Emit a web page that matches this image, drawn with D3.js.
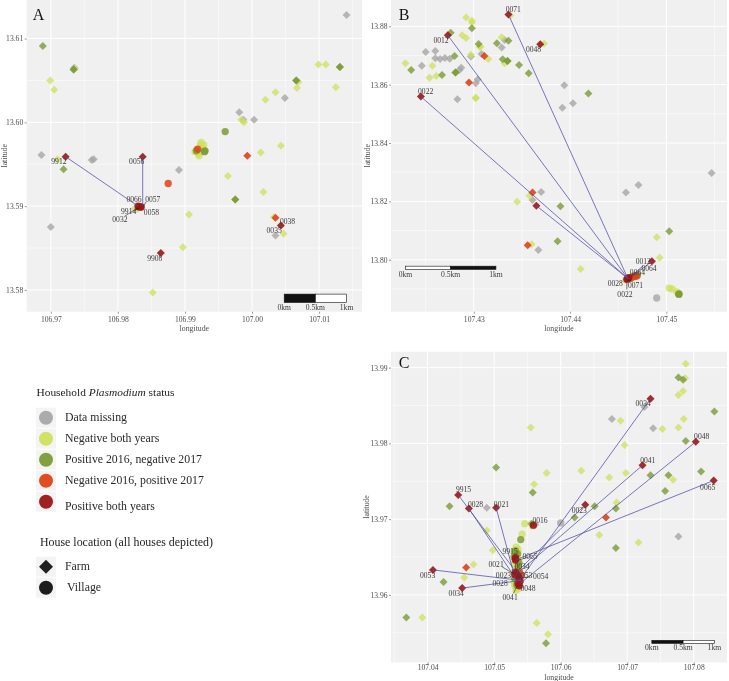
<!DOCTYPE html>
<html><head><meta charset="utf-8">
<script src="https://cdn.jsdelivr.net/npm/d3@7"></script>
<style>html,body{margin:0;padding:0;background:#fff}svg{display:block;filter:blur(.4px)}text{font-family:"Liberation Serif",serif}</style>
</head><body><div id="chart"></div>
<script>
// ---------- Panel A data [longitude, latitude]
const aMissingFarm=[[106.9735,13.6065],[107.0141,13.6128],[106.9686,13.5961],[106.9761,13.5955],[106.9764,13.5956],[106.9891,13.5943],[106.9700,13.5875],[106.9981,13.6012],[106.9987,13.6003],[107.0003,13.6003],[107.0049,13.6029],[107.0035,13.5865]];
const aNegFarm=[[106.9699,13.6050],[106.9705,13.6039],[106.9710,13.5956],[106.9736,13.6064],[106.9852,13.5797],[106.9897,13.5851],[106.9906,13.5890],[106.9964,13.5936],[106.9984,13.6003],[106.9988,13.6000],[107.0013,13.5964],[107.0017,13.5917],[107.0043,13.5972],[107.0020,13.6027],[107.0035,13.6036],[107.0067,13.6041],[107.0069,13.6048],[107.0099,13.6069],[107.0110,13.6069],[107.0125,13.6042],[107.0033,13.5887],[107.0047,13.5867],[106.9829,13.5897],[106.9825,13.5897]];
const aNegVillage=[[106.9923,13.5973],[106.9917,13.5967],[106.9921,13.5960],[106.9926,13.5969],[106.9928,13.5973],[106.9915,13.5965],[106.9920,13.5963],[106.9924,13.5976]];
const aPosNegFarm=[[106.9688,13.6091],[106.9734,13.6063],[106.9734,13.6063],[106.9719,13.5944],[106.9975,13.5908],[106.9975,13.5908],[107.0066,13.6050],[107.0066,13.6050],[107.0131,13.6066],[107.0131,13.6066]];
const aPosNegVillage=[[106.9930,13.5966],[106.9929,13.5965],[106.9960,13.5989],[106.9917,13.5966]];
const aNegPosFarm=[[106.9993,13.5960],[107.0035,13.5886]];
const aNegPosVillage=[[106.9875,13.5927],[106.9919,13.5968],[106.9835,13.5899]];
const aBothFarm=[[106.9722,13.5959],[106.9837,13.5959],[106.9864,13.5844],[107.0043,13.5877]];
const aBothVillage=[[106.9830,13.5900],[106.9832,13.5899],[106.9834,13.5899]];
const aLinks=[[106.9722,13.5959,106.9830,13.5900],[106.9837,13.5959,106.9837,13.5900]];
const aLeaders=[[106.9810,13.5888,106.9830,13.5898],[106.9824,13.5894,106.9832,13.5898],[106.9842,13.5905,106.9838,13.5900]];
const aLabels=[["9912",106.9712,13.5953],["0056",106.9828,13.5953],["0066",106.9824,13.5908],["0057",106.9852,13.5908],["9914",106.9816,13.5894],["0058",106.9850,13.5892],["0032",106.9803,13.5884],["0038",107.0053,13.5882],["0035",107.0033,13.5871],["9908",106.9855,13.5838]];
// ---------- Panel B data
const bMissingFarm=[[107.4250,13.8712],[107.4260,13.8715],[107.4246,13.8665],[107.4260,13.8690],[107.4265,13.8688],[107.4270,13.8691],[107.4275,13.8689],[107.4287,13.8658],[107.4285,13.8650],[107.4283,13.8550],[107.4297,13.8696],[107.4308,13.8705],[107.4329,13.8727],[107.4332,13.8753],[107.4302,13.8605],[107.4304,13.8618],[107.4394,13.8598],[107.4392,13.8521],[107.4403,13.8536],[107.4370,13.8232],[107.4361,13.8205],[107.4367,13.8033],[107.4458,13.8230],[107.4471,13.8256],[107.4547,13.8297]];
const bMissingVillage=[[107.4490,13.7869]];
const bNegFarm=[[107.4229,13.8673],[107.4257,13.8665],[107.4254,13.8624],[107.4261,13.8630],[107.4292,13.8830],[107.4298,13.8819],[107.4298,13.8813],[107.4288,13.8769],[107.4292,13.8760],[107.4297,13.8702],[107.4306,13.8730],[107.4307,13.8730],[107.4329,13.8762],[107.4315,13.8688],[107.4332,13.8673],[107.4302,13.8553],[107.4302,13.8555],[107.4373,13.8741],[107.4338,13.8837],[107.4358,13.8219],[107.4345,13.8199],[107.4360,13.8053],[107.4411,13.7968],[107.4490,13.8077],[107.4493,13.8007]];
const bNegVillage=[[107.4503,13.7903],[107.4506,13.7900],[107.4511,13.7890],[107.4513,13.7885],[107.4460,13.7933],[107.4458,13.7931],[107.4462,13.7936]];
const bPosNegFarm=[[107.4235,13.8650],[107.4276,13.8778],[107.4298,13.8793],[107.4280,13.8698],[107.4281,13.8642],[107.4281,13.8642],[107.4267,13.8633],[107.4305,13.8739],[107.4324,13.8742],[107.4336,13.8750],[107.4330,13.8687],[107.4335,13.8681],[107.4335,13.8681],[107.4347,13.8667],[107.4357,13.8639],[107.4419,13.8570],[107.4390,13.8183],[107.4387,13.8063],[107.4503,13.8098]];
const bPosNegVillage=[[107.4513,13.7882],[107.4513,13.7882],[107.4470,13.7947],[107.4466,13.7945]];
const bNegPosFarm=[[107.4295,13.8607],[107.4311,13.8698],[107.4361,13.8230],[107.4356,13.8050]];
const bNegPosVillage=[[107.4469,13.7944],[107.4464,13.7939],[107.4467,13.7943]];
const bBothFarm=[[107.4245,13.8559],[107.4273,13.8769],[107.4336,13.8840],[107.4369,13.8738],[107.4365,13.8185],[107.4485,13.7995]];
const bBothVillage=[[107.4459,13.7933],[107.4461,13.7939],[107.4460,13.7936]];
const bLinks=[[107.4245,13.8559,107.4460,13.7936],[107.4273,13.8769,107.4460,13.7936],[107.4336,13.8840,107.4460,13.7936],[107.4365,13.8185,107.4460,13.7936],[107.4485,13.7995,107.4464,13.7941]];
const bLeaders=[[107.4459,13.7921,107.4459,13.7898],[107.4465,13.7925,107.4460,13.7930],[107.4464,13.7944,107.4476,13.7980]];
const bLabels=[["0071",107.4341,13.8856],["0012",107.4266,13.8752],["0048",107.4362,13.8720],["0022",107.4250,13.8576],["0012",107.4476,13.7993],["0064",107.4482,13.7971],["0064",107.4470,13.7955],["0028",107.4447,13.7920],["0071",107.4468,13.7912],["0022",107.4457,13.7882]];
// ---------- Panel C data
const cMissingFarm=[[107.0677,13.9832],[107.0726,13.9848],[107.0739,13.9820],[107.0489,13.9715],[107.0777,13.9677],[107.0562,13.9693]];
const cMissingVillage=[[107.0600,13.9695]];
const cNegFarm=[[107.0788,13.9905],[107.0787,13.9886],[107.0784,13.9869],[107.0777,13.9864],[107.0785,13.9832],[107.0777,13.9821],[107.0753,13.9819],[107.0690,13.9830],[107.0696,13.9798],[107.0555,13.9821],[107.0579,13.9761],[107.0560,13.9746],[107.0631,13.9764],[107.0673,13.9755],[107.0698,13.9761],[107.0769,13.9752],[107.0684,13.9722],[107.0658,13.9679],[107.0717,13.9669],[107.0489,13.9685],[107.0498,13.9659],[107.0469,13.9640],[107.0455,13.9623],[107.0392,13.9570],[107.0564,13.9563],[107.0581,13.9548]];
const cNegVillage=[[107.0546,13.9694],[107.0542,13.9680],[107.0558,13.9691],[107.0533,13.9663],[107.0536,13.9660],[107.0531,13.9652],[107.0535,13.9648],[107.0530,13.9641],[107.0536,13.9635],[107.0533,13.9626],[107.0530,13.9617],[107.0533,13.9610],[107.0533,13.9606],[107.0536,13.9655],[107.0530,13.9657],[107.0537,13.9641],[107.0530,13.9630],[107.0538,13.9621],[107.0531,13.9612],[107.0536,13.9608]];
const cPosNegFarm=[[107.0777,13.9887],[107.0784,13.9884],[107.0831,13.9842],[107.0788,13.9803],[107.0811,13.9763],[107.0762,13.9758],[107.0735,13.9758],[107.0757,13.9737],[107.0683,13.9714],[107.0651,13.9717],[107.0621,13.9702],[107.0683,13.9662],[107.0558,13.9735],[107.0503,13.9768],[107.0433,13.9717],[107.0424,13.9617],[107.0368,13.9570],[107.0578,13.9536],[107.0556,13.9694]];
const cPosNegVillage=[[107.0540,13.9673],[107.0535,13.9654],[107.0537,13.9643],[107.0535,13.9626],[107.0532,13.9658],[107.0534,13.9613],[107.0530,13.9650],[107.0536,13.9637],[107.0531,13.9622]];
const cNegPosFarm=[[107.0458,13.9636],[107.0668,13.9702]];
const cNegPosVillage=[[107.0538,13.9630],[107.0541,13.9626],[107.0536,13.9624]];
const cBothFarm=[[107.0735,13.9859],[107.0803,13.9802],[107.0723,13.9771],[107.0830,13.9751],[107.0637,13.9719],[107.0446,13.9732],[107.0462,13.9714],[107.0503,13.9715],[107.0408,13.9633],[107.0452,13.9609]];
const cBothVillage=[[107.0559,13.9692],[107.0532,13.9649],[107.0532,13.9646],[107.0532,13.9630],[107.0537,13.9622],[107.0536,13.9615],[107.0538,13.9612],[107.0534,13.9626],[107.0531,13.9627],[107.0539,13.9618]];
const cLinks=[[107.0735,13.9859,107.0538,13.9619],[107.0803,13.9802,107.0539,13.9615],[107.0723,13.9771,107.0532,13.9626],[107.0830,13.9751,107.0532,13.9646],[107.0637,13.9719,107.0534,13.9630],[107.0446,13.9732,107.0529,13.9635],[107.0462,13.9714,107.0532,13.9622],[107.0503,13.9715,107.0529,13.9630],[107.0408,13.9633,107.0541,13.9619],[107.0452,13.9609,107.0541,13.9619]];
const cLeaders=[[107.0512,13.9637,107.0529,13.9628],[107.0529,13.9602,107.0534,13.9611],[107.0537,13.9646,107.0552,13.9650],[107.0554,13.9624,107.0541,13.9622]];
const cLabels=[["9915",107.0454,13.9739],["0028",107.0472,13.9719],["0021",107.0511,13.9719],["0016",107.0569,13.9698],["0023",107.0628,13.9711],["0041",107.0731,13.9777],["0048",107.0812,13.9809],["0065",107.0821,13.9742],["0034",107.0724,13.9852],["0053",107.0400,13.9626],["0034",107.0443,13.9602],["9915",107.0524,13.9657],["0065",107.0554,13.9650],["0021",107.0503,13.9640],["0034",107.0542,13.9637],["0023",107.0514,13.9626],["0053",107.0546,13.9626],["0054",107.0570,13.9624],["0028",107.0509,13.9615],["0048",107.0551,13.9608],["0041",107.0524,13.9596]];
// ---------- Ticks, scale bars and legend text
const aLonTicks=[106.97,106.98,106.99,107.00,107.01], aLatTicks=[13.58,13.59,13.60,13.61];
const bLonTicks=[107.43,107.44,107.45], bLatTicks=[13.80,13.82,13.84,13.86,13.88];
const cLonTicks=[107.04,107.05,107.06,107.07,107.08], cLatTicks=[13.96,13.97,13.98,13.99];
const aBar=[107.0048,107.00945,107.0141,13.5795,13.5785], bBar=[107.4229,107.4276,107.4323,13.7978,13.7967], cBar=[107.0737,107.0784,107.0831,13.9540,13.9536];
const barLabels=["0km","0.5km","1km"];
const statusNames=["Data missing","Negative both years","Positive 2016, negative 2017","Negative 2016, positive 2017","Positive both years"];
const statusColors=["#a9a5a5","#cfe05c","#7c9b36","#de4316","#9c1515"];
const shapeNames=["Farm","Village"];

const W=729,H=681;
const svg=d3.select("#chart").append("svg").attr("width",W).attr("height",H).attr("viewBox",[0,0,W,H]);
const TXT="#3a3a3a", TICK="#4d4d4d";
const diamond=d3.symbol().type(d3.symbolSquare).size(32)();
const circle=d3.symbol().type(d3.symbolCircle).size(42)();

function panel(o){
  const x=d3.scaleLinear().domain(o.xd).range([o.l,o.r]);
  const y=d3.scaleLinear().domain(o.yd).range([o.b,o.t]);
  const g=svg.append("g");
  g.append("rect").attr("x",o.l).attr("y",o.t).attr("width",o.r-o.l).attr("height",o.b-o.t).attr("fill","#f0f0f0");
  const stepX=o.xt[1]-o.xt[0], stepY=o.yt[1]-o.yt[0];
  const mids=(t,s,d)=>[t[0]-s/2,...t.map(v=>v+s/2)].filter(v=>v>d[0]&&v<d[1]);
  g.selectAll(".mx").data(mids(o.xt,stepX,o.xd)).join("line").attr("x1",x).attr("x2",x).attr("y1",o.t).attr("y2",o.b).attr("stroke","#fff").attr("stroke-width",.5);
  g.selectAll(".my").data(mids(o.yt,stepY,o.yd)).join("line").attr("y1",y).attr("y2",y).attr("x1",o.l).attr("x2",o.r).attr("stroke","#fff").attr("stroke-width",.5);
  g.selectAll(".gx").data(o.xt).join("line").attr("x1",x).attr("x2",x).attr("y1",o.t).attr("y2",o.b).attr("stroke","#fff").attr("stroke-width",1);
  g.selectAll(".gy").data(o.yt).join("line").attr("y1",y).attr("y2",y).attr("x1",o.l).attr("x2",o.r).attr("stroke","#fff").attr("stroke-width",1);

  const ax=g.append("g").attr("transform",`translate(0,${o.b})`).call(d3.axisBottom(x).tickValues(o.xt).tickFormat(d3.format(".2f")).tickSize(2).tickPadding(o.padX));
  const ay=g.append("g").attr("transform",`translate(${o.l},0)`).call(d3.axisLeft(y).tickValues(o.yt).tickFormat(d3.format(".2f")).tickSize(2).tickPadding(1.5));
  [ax,ay].forEach(a=>{a.select(".domain").remove();a.selectAll("line").attr("stroke","#555").attr("stroke-width",.6);
    a.selectAll("text").attr("fill",TICK).style("font-size","7.6px").style("font-family",'"Liberation Serif",serif');});
  g.append("text").attr("x",(o.l+o.r)/2).attr("y",o.xlabY).attr("text-anchor","middle").attr("fill",TICK).style("font-size","7.8px").text("longitude");
  g.append("text").attr("transform",`translate(${o.ylabX},${(o.t+o.b)/2}) rotate(-90)`).attr("text-anchor","middle").attr("fill",TICK).style("font-size","7.8px").text("latitude");

  const pts=(data,color,path,op)=>g.append("g").selectAll("path").data(data).join("path").attr("d",path)
    .attr("transform",d=>`translate(${x(d[0])},${y(d[1])})`+(path===diamond?" rotate(45)":"")).attr("fill",color).attr("fill-opacity",op);
  const c=statusColors;
  pts(o.d.mf,c[0],diamond,.8); if(o.d.mv)pts(o.d.mv,c[0],circle,.8);
  pts(o.d.nf,c[1],diamond,.75); pts(o.d.nv,c[1],circle,.75);
  pts(o.d.pf,c[2],diamond,.8); pts(o.d.pv,c[2],circle,.85);
  pts(o.d.of,c[3],diamond,.9); pts(o.d.ov,c[3],circle,.85);
  pts(o.d.rf,c[4],diamond,.9); pts(o.d.rv,c[4],circle,.9);

  g.append("g").selectAll("line").data(o.links).join("line").attr("x1",d=>x(d[0])).attr("y1",d=>y(d[1])).attr("x2",d=>x(d[2])).attr("y2",d=>y(d[3])).attr("stroke","#4f4fa8").attr("stroke-opacity",.85).attr("stroke-width",.9);
  g.append("g").selectAll("line").data(o.leaders).join("line").attr("x1",d=>x(d[0])).attr("y1",d=>y(d[1])).attr("x2",d=>x(d[2])).attr("y2",d=>y(d[3])).attr("stroke","#222").attr("stroke-width",.6);
  g.append("g").selectAll("text").data(o.labels).join("text").attr("x",d=>x(d[1])).attr("y",d=>y(d[2])).attr("dy","0.32em").attr("text-anchor","middle").attr("fill",TXT).style("font-size","7.6px").text(d=>d[0]);

  // scale bar
  const b=o.bar, bt=y(b[3]), bh=y(b[4])-y(b[3]);
  const seg=(a,z,f)=>g.append("rect").attr("x",x(a)).attr("y",bt).attr("width",x(z)-x(a)).attr("height",bh).attr("fill",f).attr("stroke","#111").attr("stroke-width",.6);
  seg(b[0],b[1],o.barFlip?"#fff":"#111"); seg(b[1],b[2],o.barFlip?"#111":"#fff");
  barLabels.forEach((t,i)=>g.append("text").attr("x",x(b[i])).attr("y",bt+bh+o.barGap).attr("text-anchor","middle").attr("fill",TXT).style("font-size","7.6px").text(t));
  g.append("text").attr("x",o.letter[0]).attr("y",o.letter[1]).attr("text-anchor","middle").attr("fill","#111").style("font-size","16px").text(o.name);
}

panel({name:"A",l:26.7,r:362,t:0,b:311.7,xd:[106.9664,107.0164],yd:[13.5774,13.6146],xt:aLonTicks,yt:aLatTicks,padX:2.5,xlabY:331,ylabX:7,letter:[38.5,19.5],
  bar:aBar,barGap:8,d:{mf:aMissingFarm,nf:aNegFarm,nv:aNegVillage,pf:aPosNegFarm,pv:aPosNegVillage,of:aNegPosFarm,ov:aNegPosVillage,rf:aBothFarm,rv:aBothVillage},links:aLinks,leaders:aLeaders,labels:aLabels});
panel({name:"B",l:391,r:727,t:0,b:311.7,xd:[107.4214,107.4563],yd:[13.7822,13.8890],xt:bLonTicks,yt:bLatTicks,padX:2.5,xlabY:331,ylabX:370,letter:[404,19.5],
  bar:bBar,barGap:8,barFlip:true,d:{mf:bMissingFarm,mv:bMissingVillage,nf:bNegFarm,nv:bNegVillage,pf:bPosNegFarm,pv:bPosNegVillage,of:bNegPosFarm,ov:bNegPosVillage,rf:bBothFarm,rv:bBothVillage},links:bLinks,leaders:bLeaders,labels:bLabels});
panel({name:"C",l:391,r:727,t:351.7,b:662.3,xd:[107.0345,107.0850],yd:[13.9511,13.9921],xt:cLonTicks,yt:cLatTicks,padX:.5,xlabY:679.5,ylabX:368.5,letter:[404,367.5],
  bar:cBar,barGap:7,d:{mf:cMissingFarm,mv:cMissingVillage,nf:cNegFarm,nv:cNegVillage,pf:cPosNegFarm,pv:cPosNegVillage,of:cNegPosFarm,ov:cNegPosVillage,rf:cBothFarm,rv:cBothVillage},links:cLinks,leaders:cLeaders,labels:cLabels});

// legend
const leg=svg.append("g");
const title=leg.append("text").attr("x",36.5).attr("y",396).attr("fill","#222").style("font-size","11.4px");
title.append("tspan").text("Household ");title.append("tspan").attr("font-style","italic").text("Plasmodium");title.append("tspan").text(" status");
const keyY=d3.scalePoint().domain(statusNames).range([417.7,501.7]);
statusNames.forEach((s,i)=>{
  const yy=keyY(s);
  leg.append("rect").attr("x",36).attr("y",yy-10).attr("width",20).attr("height",20).attr("fill","#f4f4f4");
  leg.append("circle").attr("cx",46).attr("cy",yy).attr("r",7).attr("fill",statusColors[i]).attr("fill-opacity",.95);
  leg.append("text").attr("x",65).attr("y",yy+(i===4?4.5:0)).attr("dy","0.32em").attr("fill","#2a2a2a").style("font-size","11.8px").text(s);
});
leg.append("text").attr("x",40).attr("y",546).attr("fill","#222").style("font-size","11.9px").text("House location (all houses depicted)");
const shapeY=d3.scalePoint().domain(shapeNames).range([566.7,587.7]);
shapeNames.forEach((s,i)=>{
  const yy=shapeY(s);
  leg.append("rect").attr("x",36).attr("y",yy-10).attr("width",20).attr("height",20).attr("fill","#f4f4f4");
  if(i===0) leg.append("path").attr("d",d3.symbol().type(d3.symbolSquare).size(98)()).attr("transform",`translate(46,${yy}) rotate(45)`).attr("fill","#222");
  else leg.append("circle").attr("cx",46).attr("cy",yy).attr("r",7).attr("fill","#1c1c1c");
  leg.append("text").attr("x",i?67:65).attr("y",yy).attr("dy","0.32em").attr("fill","#2a2a2a").style("font-size","11.8px").text(s);
});
</script></body></html>
